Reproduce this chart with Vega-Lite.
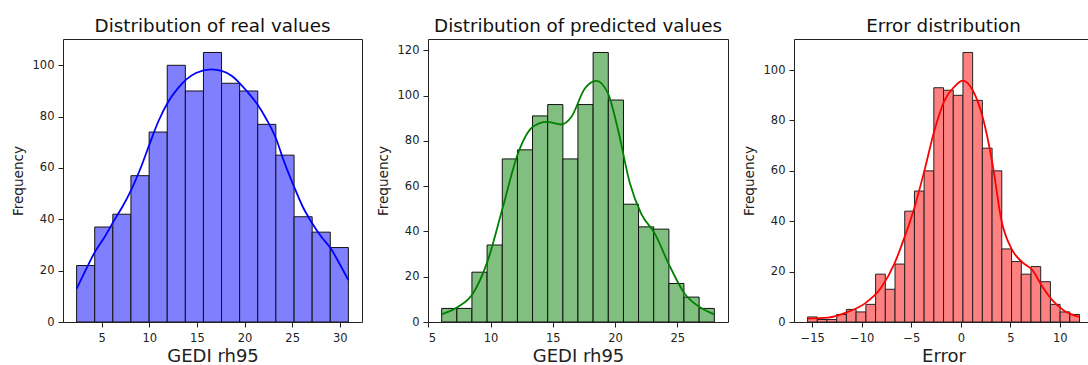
{
  "$schema": "https://vega.github.io/schema/vega-lite/v6.json",
  "background": "white",
  "padding": {"left": 10, "top": 16, "right": 0, "bottom": 0},
  "bounds": "flush",
  "spacing": 66,
  "datasets": {
    "h1": [
      {"x0": 2.38, "x1": 4.28, "count": 22},
      {"x0": 4.28, "x1": 6.18, "count": 37},
      {"x0": 6.18, "x1": 8.08, "count": 42},
      {"x0": 8.08, "x1": 9.99, "count": 57},
      {"x0": 9.99, "x1": 11.89, "count": 74},
      {"x0": 11.89, "x1": 13.79, "count": 100},
      {"x0": 13.79, "x1": 15.69, "count": 90},
      {"x0": 15.69, "x1": 17.59, "count": 105},
      {"x0": 17.59, "x1": 19.49, "count": 93},
      {"x0": 19.49, "x1": 21.39, "count": 90},
      {"x0": 21.39, "x1": 23.29, "count": 77},
      {"x0": 23.29, "x1": 25.2, "count": 65},
      {"x0": 25.2, "x1": 27.1, "count": 41},
      {"x0": 27.1, "x1": 29.0, "count": 35},
      {"x0": 29.0, "x1": 30.9, "count": 29}
    ],
    "k1": [
      {"x": 2.38, "y": 13}, {"x": 3.3, "y": 20}, {"x": 4.3, "y": 27.3}, {"x": 5.3, "y": 33}, {"x": 6.3, "y": 39.5},
      {"x": 7.2, "y": 45}, {"x": 8.1, "y": 51.4}, {"x": 9.1, "y": 60}, {"x": 10.06, "y": 69.6}, {"x": 11, "y": 78.5},
      {"x": 12, "y": 85.8}, {"x": 13, "y": 91}, {"x": 13.9, "y": 94.5}, {"x": 14.9, "y": 97}, {"x": 16.5, "y": 98.4},
      {"x": 17.6, "y": 97.8}, {"x": 18.6, "y": 96}, {"x": 19.5, "y": 93}, {"x": 20.3, "y": 89.7}, {"x": 21.4, "y": 84.5},
      {"x": 22.3, "y": 79}, {"x": 23.3, "y": 71.5}, {"x": 24.2, "y": 62}, {"x": 25.2, "y": 52.7}, {"x": 26.1, "y": 45},
      {"x": 27.1, "y": 38.5}, {"x": 28.1, "y": 33}, {"x": 29.06, "y": 28.6}, {"x": 30, "y": 22.5}, {"x": 30.9, "y": 16.3}
    ],
    "h2": [
      {"x0": 6.07, "x1": 7.29, "count": 6},
      {"x0": 7.29, "x1": 8.5, "count": 6},
      {"x0": 8.5, "x1": 9.72, "count": 22},
      {"x0": 9.72, "x1": 10.94, "count": 34},
      {"x0": 10.94, "x1": 12.16, "count": 72},
      {"x0": 12.16, "x1": 13.37, "count": 76},
      {"x0": 13.37, "x1": 14.59, "count": 91},
      {"x0": 14.59, "x1": 15.81, "count": 96},
      {"x0": 15.81, "x1": 17.02, "count": 72},
      {"x0": 17.02, "x1": 18.24, "count": 96},
      {"x0": 18.24, "x1": 19.46, "count": 119},
      {"x0": 19.46, "x1": 20.68, "count": 98},
      {"x0": 20.68, "x1": 21.89, "count": 52},
      {"x0": 21.89, "x1": 23.11, "count": 42},
      {"x0": 23.11, "x1": 24.33, "count": 41},
      {"x0": 24.33, "x1": 25.54, "count": 17},
      {"x0": 25.54, "x1": 26.76, "count": 11},
      {"x0": 26.76, "x1": 27.98, "count": 6}
    ],
    "k2": [
      {"x": 6.07, "y": 3.4}, {"x": 7.36, "y": 6.6}, {"x": 8.57, "y": 12.5}, {"x": 9.78, "y": 27.2}, {"x": 10.99, "y": 50.8},
      {"x": 12.2, "y": 74.4}, {"x": 13.4, "y": 86.2}, {"x": 14.5, "y": 88.4}, {"x": 15.7, "y": 87.2}, {"x": 16.5, "y": 90.6},
      {"x": 17.56, "y": 103}, {"x": 18.5, "y": 106.5}, {"x": 19.44, "y": 100.9}, {"x": 20.25, "y": 84.7}, {"x": 21.2, "y": 61.1},
      {"x": 22.1, "y": 47.9}, {"x": 23.2, "y": 39}, {"x": 24.3, "y": 25.8}, {"x": 25.6, "y": 12.5}, {"x": 26.8, "y": 6.6},
      {"x": 27.98, "y": 3.4}
    ],
    "h3": [
      {"x0": -15.47, "x1": -14.49, "count": 2},
      {"x0": -14.49, "x1": -13.51, "count": 1},
      {"x0": -13.51, "x1": -12.53, "count": 1},
      {"x0": -12.53, "x1": -11.55, "count": 3},
      {"x0": -11.55, "x1": -10.57, "count": 5},
      {"x0": -10.57, "x1": -9.58, "count": 4},
      {"x0": -9.58, "x1": -8.6, "count": 7},
      {"x0": -8.6, "x1": -7.62, "count": 19},
      {"x0": -7.62, "x1": -6.64, "count": 13},
      {"x0": -6.64, "x1": -5.66, "count": 23},
      {"x0": -5.66, "x1": -4.68, "count": 44},
      {"x0": -4.68, "x1": -3.7, "count": 52},
      {"x0": -3.7, "x1": -2.72, "count": 60},
      {"x0": -2.72, "x1": -1.74, "count": 93},
      {"x0": -1.74, "x1": -0.76, "count": 92},
      {"x0": -0.76, "x1": 0.22, "count": 90},
      {"x0": 0.22, "x1": 1.2, "count": 107},
      {"x0": 1.2, "x1": 2.18, "count": 88},
      {"x0": 2.18, "x1": 3.16, "count": 69},
      {"x0": 3.16, "x1": 4.14, "count": 60},
      {"x0": 4.14, "x1": 5.13, "count": 29},
      {"x0": 5.13, "x1": 6.11, "count": 24},
      {"x0": 6.11, "x1": 7.09, "count": 19},
      {"x0": 7.09, "x1": 8.07, "count": 22},
      {"x0": 8.07, "x1": 9.05, "count": 16},
      {"x0": 9.05, "x1": 10.03, "count": 7},
      {"x0": 10.03, "x1": 11.01, "count": 4},
      {"x0": 11.01, "x1": 11.99, "count": 3}
    ],
    "k3": [
      {"x": -15.47, "y": 1.3}, {"x": -13.4, "y": 1.7}, {"x": -11.4, "y": 4}, {"x": -9.7, "y": 7.3}, {"x": -8.0, "y": 13.9},
      {"x": -6.7, "y": 23.2}, {"x": -5.67, "y": 33.8}, {"x": -4.66, "y": 45.7}, {"x": -3.66, "y": 60.3}, {"x": -2.65, "y": 76.2},
      {"x": -1.64, "y": 88}, {"x": -0.64, "y": 93.4}, {"x": 0.2, "y": 95.8}, {"x": 1.2, "y": 92}, {"x": 2.2, "y": 81.5},
      {"x": 3.2, "y": 62.9}, {"x": 4.1, "y": 40.4}, {"x": 5.2, "y": 28.5}, {"x": 6.2, "y": 23.8}, {"x": 7.25, "y": 20.5},
      {"x": 8.26, "y": 13.9}, {"x": 9.26, "y": 8.6}, {"x": 10.4, "y": 4.6}, {"x": 11.98, "y": 2}
    ]
  },
  "hconcat": [
    {
      "width": 299, "height": 283,
      "title": "Distribution of real values",
      "layer": [
        {
          "data": {"name": "h1"},
          "mark": {"type": "bar", "fill": "#8080ff", "stroke": "#111", "strokeWidth": 1, "clip": true},
          "encoding": {
            "x": {"field": "x0", "type": "quantitative", "scale": {"domain": [0.95, 32.33], "nice": false, "zero": false},
                  "axis": {"values": [5, 10, 15, 20, 25, 30], "title": "GEDI rh95"}},
            "x2": {"field": "x1"},
            "y": {"field": "count", "type": "quantitative", "scale": {"domain": [0, 110.25], "nice": false},
                  "axis": {"values": [0, 20, 40, 60, 80, 100], "title": "Frequency"}},
            "y2": {"datum": 0}
          }
        },
        {
          "data": {"name": "k1"},
          "mark": {"type": "line", "color": "#0000ff", "strokeWidth": 1.8, "interpolate": "monotone", "clip": true},
          "encoding": {
            "x": {"field": "x", "type": "quantitative"},
            "y": {"field": "y", "type": "quantitative"}
          }
        }
      ]
    },
    {
      "width": 300, "height": 283,
      "title": "Distribution of predicted values",
      "layer": [
        {
          "data": {"name": "h2"},
          "mark": {"type": "bar", "fill": "#80bf80", "stroke": "#111", "strokeWidth": 1, "clip": true},
          "encoding": {
            "x": {"field": "x0", "type": "quantitative", "scale": {"domain": [4.97, 29.08], "nice": false, "zero": false},
                  "axis": {"values": [5, 10, 15, 20, 25], "title": "GEDI rh95"}},
            "x2": {"field": "x1"},
            "y": {"field": "count", "type": "quantitative", "scale": {"domain": [0, 124.95], "nice": false},
                  "axis": {"values": [0, 20, 40, 60, 80, 100, 120], "title": "Frequency"}},
            "y2": {"datum": 0}
          }
        },
        {
          "data": {"name": "k2"},
          "mark": {"type": "line", "color": "#008000", "strokeWidth": 1.8, "interpolate": "monotone", "clip": true},
          "encoding": {
            "x": {"field": "x", "type": "quantitative"},
            "y": {"field": "y", "type": "quantitative"}
          }
        }
      ]
    },
    {
      "width": 299, "height": 283,
      "title": "Error distribution",
      "layer": [
        {
          "data": {"name": "h3"},
          "mark": {"type": "bar", "fill": "#ff8080", "stroke": "#222", "strokeWidth": 1, "clip": true},
          "encoding": {
            "x": {"field": "x0", "type": "quantitative", "scale": {"domain": [-16.84, 13.35], "nice": false, "zero": false},
                  "axis": {"values": [-15, -10, -5, 0, 5, 10], "title": "Error"}},
            "x2": {"field": "x1"},
            "y": {"field": "count", "type": "quantitative", "scale": {"domain": [0, 112.35], "nice": false},
                  "axis": {"values": [0, 20, 40, 60, 80, 100], "title": "Frequency"}},
            "y2": {"datum": 0}
          }
        },
        {
          "data": {"name": "k3"},
          "mark": {"type": "line", "color": "#ff0000", "strokeWidth": 1.8, "interpolate": "monotone", "clip": true},
          "encoding": {
            "x": {"field": "x", "type": "quantitative"},
            "y": {"field": "y", "type": "quantitative"}
          }
        }
      ]
    }
  ],
  "resolve": {"scale": {"x": "independent", "y": "independent"}},
  "config": {
    "font": "DejaVu Sans",
    "view": {"stroke": "#222", "strokeWidth": 1},
    "axis": {
      "grid": false, "domain": false, "tickColor": "#222", "tickSize": 5, "tickWidth": 1,
      "labelFontSize": 11.5, "labelColor": "#222", "labelPadding": 5,
      "titleFontWeight": "normal", "titleColor": "#222", "labelFont": "DejaVu Sans", "titleFont": "DejaVu Sans"
    },
    "axisY": {"titleFontSize": 13.6, "titlePadding": 7, "labelPadding": 4},
    "axisX": {"titleFontSize": 18, "titlePadding": 3.5},
    "title": {"fontSize": 18.3, "fontWeight": "normal", "color": "#111", "offset": 3, "font": "DejaVu Sans"}
  }
}
